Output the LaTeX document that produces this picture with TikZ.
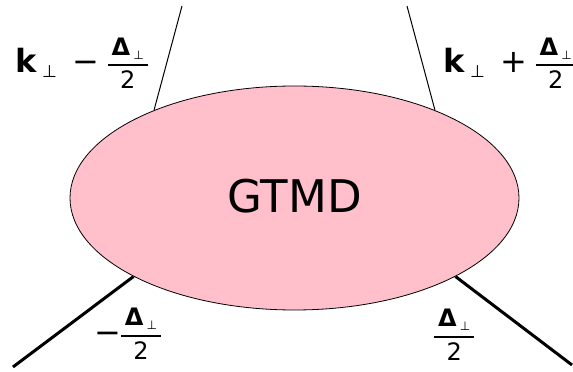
\documentclass[tikz,border=0pt]{standalone}
\usepackage{fontspec}
\setmainfont{DejaVu Sans}
\usepackage{tikz}
\usetikzlibrary{shapes.geometric}

\definecolor{gtmdpink}{RGB}{255,192,203}

% small pieces of the momentum labels
\newcommand\perpsub[2]{\raisebox{#2}{\fontsize{#1}{#1}\selectfont ⊥}}
\newcommand\halfdelta{\raisebox{-16pt}{{\renewcommand\arraystretch{0}\setlength\arrayrulewidth{1.8pt}%
  \begin{tabular}[b]{@{}c@{}}
    \rule[-9pt]{0pt}{24pt}\makebox[40pt]{\fontsize{24}{24}\selectfont\textbf{Δ}\hspace{3pt}\perpsub{12}{-4pt}}\\ \hline
    \rule{0pt}{23pt}\makebox[40pt]{\fontsize{24}{24}\selectfont 2}
  \end{tabular}}}}

\begin{document}
\begin{tikzpicture}[
  x=1pt, y=1pt,
  blob/.style={ellipse, draw, fill=gtmdpink, line width=0.8pt, minimum width=449pt,
    minimum height=224pt, inner sep=0pt, font=\fontsize{45}{54}\selectfont},
  parton/.style={line width=1pt},
  gluonleg/.style={line width=3pt},
  mom/.style={inner sep=0pt, anchor=base west, font=\fontsize{32}{38}\selectfont}
]
  \useasboundingbox (0,0) rectangle (573,372);

  \node[blob] (gtmd) at (294.5,174) {\raisebox{4pt}{GTMD}};

  \coordinate (qin) at (182,366);
  \coordinate (qout) at (407,366);
  \coordinate (gin) at (13,5);
  \coordinate (gout) at (572,7);

  \draw[parton] (qin) -- (gtmd.148);
  \draw[parton] (qout) -- (gtmd.32);
  \draw[gluonleg] (gin) -- (gtmd.206);
  \draw[gluonleg] (gout) -- (gtmd.334);

  \node[mom] (kminus) at (15,299)
    {\textbf{k}\hspace{5pt}\perpsub{17}{-5pt}\hspace{16pt}−\hspace{8pt}\halfdelta};
  \node[mom] (kplus) at (443,299)
    {\textbf{k}\hspace{5pt}\perpsub{17}{-5pt}\hspace{16pt}+\hspace{8pt}\halfdelta};
  \node[mom] (dminus) at (94,28.4) {−\halfdelta};
  \node[mom] (dplus) at (434,27.4) {\halfdelta};
\end{tikzpicture}
\end{document}
